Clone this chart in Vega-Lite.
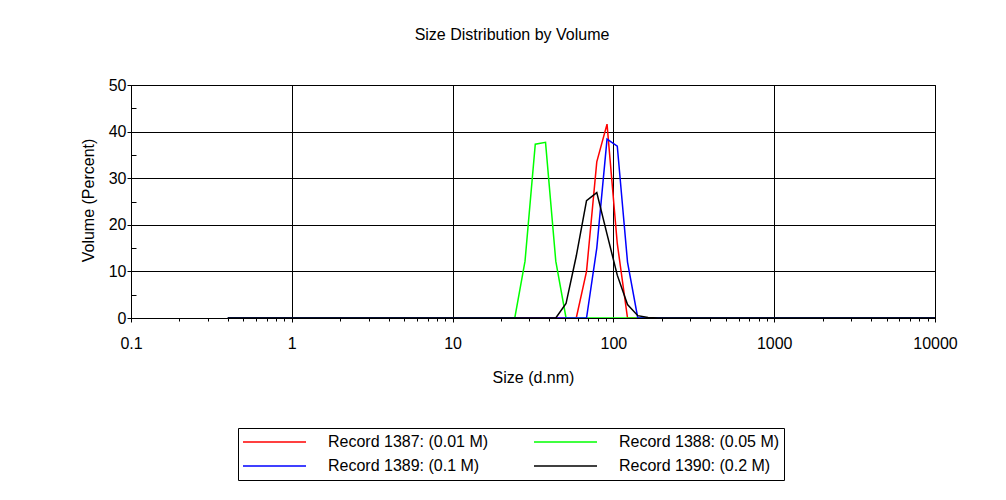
{
  "$schema": "https://vega.github.io/schema/vega-lite/v6.json",
  "width": 804,
  "height": 233,
  "autosize": {"type": "none"},
  "padding": {"left": 131, "top": 85, "right": 71, "bottom": 182},
  "background": "white",
  "config": {
    "font": "Liberation Sans",
    "view": {"stroke": "black", "strokeWidth": 1},
    "axis": {
      "domainColor": "black",
      "tickColor": "black",
      "gridColor": "black",
      "labelColor": "black",
      "titleColor": "black",
      "labelFontSize": 16,
      "titleFontSize": 16,
      "titleFontWeight": "normal",
      "labelFont": "Liberation Sans",
      "titleFont": "Liberation Sans",
      "labelOverlap": false,
      "labelFlush": false,
      "labelBound": false
    }
  },
  "title": {
    "text": "Size Distribution by Volume",
    "fontSize": 16,
    "fontWeight": "normal",
    "font": "Liberation Sans",
    "color": "black",
    "anchor": "middle",
    "frame": "group",
    "dx": -21,
    "offset": 21,
    "baseline": "alphabetic"
  },
  "data": {
    "values": [
      {"record": "Record 1387: (0.01 M)", "size": 0.4, "volume": 0},
      {"record": "Record 1387: (0.01 M)", "size": 50.75, "volume": 0},
      {"record": "Record 1387: (0.01 M)", "size": 58.77, "volume": 0},
      {"record": "Record 1387: (0.01 M)", "size": 68.06, "volume": 10},
      {"record": "Record 1387: (0.01 M)", "size": 78.82, "volume": 33.5},
      {"record": "Record 1387: (0.01 M)", "size": 91.28, "volume": 41.6},
      {"record": "Record 1387: (0.01 M)", "size": 105.7, "volume": 16},
      {"record": "Record 1387: (0.01 M)", "size": 122.4, "volume": 0},
      {"record": "Record 1387: (0.01 M)", "size": 141.8, "volume": 0},
      {"record": "Record 1387: (0.01 M)", "size": 10000, "volume": 0},
      {"record": "Record 1388: (0.05 M)", "size": 0.4, "volume": 0},
      {"record": "Record 1388: (0.05 M)", "size": 21.04, "volume": 0},
      {"record": "Record 1388: (0.05 M)", "size": 24.36, "volume": 0},
      {"record": "Record 1388: (0.05 M)", "size": 28.21, "volume": 12.2},
      {"record": "Record 1388: (0.05 M)", "size": 32.67, "volume": 37.3},
      {"record": "Record 1388: (0.05 M)", "size": 37.84, "volume": 37.7},
      {"record": "Record 1388: (0.05 M)", "size": 43.82, "volume": 12.2},
      {"record": "Record 1388: (0.05 M)", "size": 50.75, "volume": 0},
      {"record": "Record 1388: (0.05 M)", "size": 58.77, "volume": 0},
      {"record": "Record 1388: (0.05 M)", "size": 10000, "volume": 0},
      {"record": "Record 1389: (0.1 M)", "size": 0.4, "volume": 0},
      {"record": "Record 1389: (0.1 M)", "size": 58.77, "volume": 0},
      {"record": "Record 1389: (0.1 M)", "size": 68.06, "volume": 0},
      {"record": "Record 1389: (0.1 M)", "size": 78.82, "volume": 15},
      {"record": "Record 1389: (0.1 M)", "size": 91.28, "volume": 38.4},
      {"record": "Record 1389: (0.1 M)", "size": 105.7, "volume": 36.9},
      {"record": "Record 1389: (0.1 M)", "size": 122.4, "volume": 12},
      {"record": "Record 1389: (0.1 M)", "size": 141.8, "volume": 0},
      {"record": "Record 1389: (0.1 M)", "size": 164.2, "volume": 0},
      {"record": "Record 1389: (0.1 M)", "size": 10000, "volume": 0},
      {"record": "Record 1390: (0.2 M)", "size": 0.4, "volume": 0},
      {"record": "Record 1390: (0.2 M)", "size": 37.84, "volume": 0},
      {"record": "Record 1390: (0.2 M)", "size": 43.82, "volume": 0},
      {"record": "Record 1390: (0.2 M)", "size": 50.75, "volume": 3.1},
      {"record": "Record 1390: (0.2 M)", "size": 58.77, "volume": 13.3},
      {"record": "Record 1390: (0.2 M)", "size": 68.06, "volume": 25.2},
      {"record": "Record 1390: (0.2 M)", "size": 78.82, "volume": 26.9},
      {"record": "Record 1390: (0.2 M)", "size": 91.28, "volume": 18},
      {"record": "Record 1390: (0.2 M)", "size": 105.7, "volume": 9.2},
      {"record": "Record 1390: (0.2 M)", "size": 122.4, "volume": 2.9},
      {"record": "Record 1390: (0.2 M)", "size": 141.8, "volume": 0.5},
      {"record": "Record 1390: (0.2 M)", "size": 164.2, "volume": 0.1},
      {"record": "Record 1390: (0.2 M)", "size": 190.1, "volume": 0},
      {"record": "Record 1390: (0.2 M)", "size": 10000, "volume": 0}
    ]
  },
  "mark": {"type": "line", "strokeWidth": 1.5, "clip": true},
  "encoding": {
    "x": {
      "field": "size",
      "type": "quantitative",
      "scale": {"type": "log", "domain": [0.1, 10000], "nice": false},
      "axis": {
        "title": "Size (d.nm)",
        "values": [0.1, 0.2, 0.3, 0.4, 0.5, 0.6, 0.7, 0.8, 0.9, 1, 2, 3, 4, 5, 6, 7, 8, 9, 10, 20, 30, 40, 50, 60, 70, 80, 90, 100, 200, 300, 400, 500, 600, 700, 800, 900, 1000, 2000, 3000, 4000, 5000, 6000, 7000, 8000, 9000, 10000],
        "labelExpr": "abs(log(datum.value)/LN10 - round(log(datum.value)/LN10)) < 0.001 ? '' + datum.value : ''",
        "grid": true,
        "gridOpacity": {"condition": {"test": "abs(log(datum.value)/LN10 - round(log(datum.value)/LN10)) < 0.001", "value": 1}, "value": 0},
        "tickSize": {"condition": {"test": "abs(log(datum.value)/LN10 - round(log(datum.value)/LN10)) < 0.001", "value": 4}, "value": 3},
        "labelPadding": 13,
        "titleBaseline": "alphabetic",
        "titleY": 64,
        "titleX": 402
      }
    },
    "y": {
      "field": "volume",
      "type": "quantitative",
      "scale": {"domain": [0, 50], "nice": false},
      "axis": {
        "title": "Volume (Percent)",
        "values": [0, 5, 10, 15, 20, 25, 30, 35, 40, 45, 50],
        "labelExpr": "datum.value % 10 == 0 ? datum.label : ''",
        "grid": true,
        "gridOpacity": {"condition": {"test": "datum.value % 10 == 0", "value": 1}, "value": 0},
        "tickSize": {"condition": {"test": "datum.value % 10 == 0", "value": 4}, "value": -5},
        "labelPadding": 1,
        "titleAngle": -90,
        "titleBaseline": "alphabetic",
        "titleAlign": "center",
        "titleX": -38,
        "titleY": 115
      }
    },
    "color": {
      "field": "record",
      "type": "nominal",
      "scale": {
        "domain": ["Record 1387: (0.01 M)", "Record 1389: (0.1 M)", "Record 1388: (0.05 M)", "Record 1390: (0.2 M)"],
        "range": ["#ff0000", "#0000ff", "#00ff00", "#000000"]
      },
      "legend": {
        "orient": "none",
        "legendX": 107,
        "legendY": 343,
        "columns": 2,
        "title": null,
        "symbolType": "stroke",
        "symbolSize": 3969,
        "symbolStrokeWidth": 1.5,
        "clipHeight": 20,
        "rowPadding": 4,
        "columnPadding": 44,
        "labelOffset": 21,
        "labelFontSize": 16,
        "labelFont": "Liberation Sans",
        "labelColor": "black",
        "labelLimit": 400,
        "padding": 4,
        "strokeColor": "black",
        "fillColor": "white"
      }
    }
  }
}
